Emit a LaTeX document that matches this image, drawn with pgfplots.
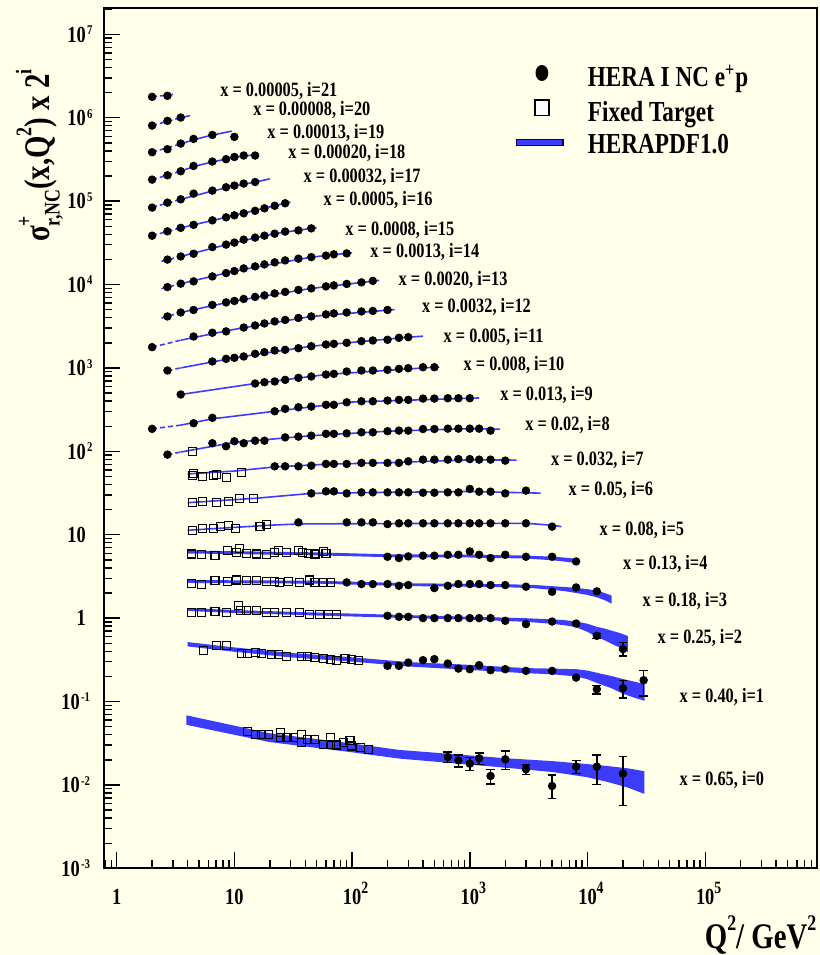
\documentclass[border=0pt]{standalone}
\usepackage{fontspec}
\setmainfont{Liberation Serif}[FakeStretch=0.8]
\usepackage{graphicx}
\usepackage{pgfplots}
\pgfplotsset{compat=1.18}
\definecolor{cream}{RGB}{255,255,234}
\definecolor{hblue}{RGB}{60,60,255}
\newcommand{\xsup}[1]{\raisebox{0.46em}{\scalebox{0.75}{#1}}}
\newcommand{\ysup}[1]{\kern0.6pt\raisebox{0.32em}{\scalebox{0.58}{#1}}}
\newcommand{\lsup}[1]{\raisebox{0.5em}{\scalebox{0.62}{#1}}}
\newcommand{\lsub}[1]{\raisebox{-0.28em}{\scalebox{0.62}{#1}}}
\begin{document}
\begin{tikzpicture}[font=\bfseries]
\fill[cream] (-52.15pt,-43.35pt) rectangle (357.85pt,434.15pt);
\begin{axis}[
  at={(0,0)}, anchor=south west,
  scale only axis, width=356.2pt, height=430pt,
  xmode=log, ymode=log,
  xmin=0.785, xmax=8.85e5, ymin=1e-3, ymax=2.05e7,
  axis line style={line width=0.9pt},
  every tick/.style={black, line width=0.7pt},
  major tick length=8pt, minor tick length=4pt,
  tick align=inside, tick pos=left,
  xtick={1,10,100,1000,10000,100000},
  xticklabels={1,10,10\rlap{\xsup{2}},10\rlap{\xsup{3}},10\rlap{\xsup{4}},10\rlap{\xsup{5}}},
  minor xtick={0.8,0.9,2,3,4,5,6,7,8,9,20,30,40,50,60,70,80,90,200,300,400,500,600,700,800,900,2000,3000,4000,5000,6000,7000,8000,9000,20000,30000,40000,50000,60000,70000,80000,90000,200000,300000,400000,500000,600000,700000,800000},
  ytick={0.001,0.01,0.1,1,10,100,1000,10000,100000,1000000,10000000},
  yticklabels={10\rlap{\ysup{-3}}\kern3pt,10\rlap{\ysup{-2}}\kern3pt,10\rlap{\ysup{-1}}\kern3pt,1,10,10\rlap{\ysup{2}},10\rlap{\ysup{3}},10\rlap{\ysup{4}},10\rlap{\ysup{5}},10\rlap{\ysup{6}},10\rlap{\ysup{7}}},
  minor ytick={0.002,0.003,0.004,0.005,0.006,0.007,0.008,0.009,0.02,0.03,0.04,0.05,0.06,0.07,0.08,0.09,0.2,0.3,0.4,0.5,0.6,0.7,0.8,0.9,2,3,4,5,6,7,8,9,20,30,40,50,60,70,80,90,200,300,400,500,600,700,800,900,2000,3000,4000,5000,6000,7000,8000,9000,20000,30000,40000,50000,60000,70000,80000,90000,200000,300000,400000,500000,600000,700000,800000,900000,2000000,3000000,4000000,5000000,6000000,7000000,8000000,9000000,20000000},
  xticklabel style={font=\fontsize{11.5}{12}\selectfont\bfseries, anchor=north, inner sep=0pt, text height=7.8pt, text depth=0pt, yshift=-10pt},
  yticklabel style={font=\fontsize{11.5}{12}\selectfont\bfseries, anchor=east, inner sep=0pt, text height=7.8pt, text depth=0pt, xshift=-9pt},
  xlabel={Q\lsup{2}/ GeV\lsup{2}},
  xlabel style={font=\fontsize{18}{20}\selectfont\bfseries, at={(axis description cs:1,-0.093)}, anchor=base east, inner sep=0pt},
  ylabel={σ\rlap{\lsup{+}}\lsub{r,NC}(x,Q\lsup{2}) x 2\lsup{i}},
  ylabel style={font=\fontsize{18}{20}\selectfont\bfseries, at={(axis description cs:-0.077,0.728)}, anchor=base west, inner sep=0pt},
  legend cell align=left,
  legend style={at={(axis description cs:0.5775,0.9341)}, anchor=north west, draw=none, fill=none, inner sep=0pt, outer sep=0pt, row sep=3.25pt, font=\fontsize{14.5}{17}\selectfont\bfseries, nodes={inner sep=0pt, text height=10pt, text depth=3pt}},
  clip=false,
]
\addlegendimage{legend image code/.code={\path[draw=none] (-13pt,0pt) -- (23pt,0pt); \fill[black, draw=none] (0pt,3.3pt) ellipse (3.2pt and 4pt);}}
\addlegendentry{HERA I NC e\textsuperscript{+}p}
\addlegendimage{legend image code/.code={\path[draw=none] (-13pt,0pt) -- (23pt,0pt); \draw[black, line width=0.8pt, fill=white] (-3.6pt,-0.6pt) rectangle (3.6pt,7.2pt);}}
\addlegendentry{Fixed Target}
\addlegendimage{legend image code/.code={\path[draw=none] (-13pt,0pt) -- (23pt,0pt); \draw[black!60!blue, line width=0.6pt, fill=hblue] (-12.8pt,0.6pt) rectangle (10.5pt,3.7pt);}}
\addlegendentry{HERAPDF1.0}

% ---------- HERAPDF1.0 bands, rows i=4..0 (upper edge, then lower edge back) ----------
\pgfplotsset{band/.style={fill=hblue, draw=none, forget plot}}
\addplot[band] coordinates {(4,6.45)(10,6.34)(50,6.14)(200,5.82)(1000,5.77)(3000,5.62)(5000,5.46)(6500,5.31)(8000,5.14)
 (8000,4.56)(6500,4.75)(5000,4.94)(3000,5.18)(1000,5.33)(200,5.38)(50,5.66)(10,5.86)(4,5.95)};
\addplot[band] coordinates {(4,2.86)(50,2.81)(300,2.62)(2000,2.55)(3500,2.50)(5000,2.415)(6500,2.36)(8000,2.30)(10000,2.225)(12000,2.125)(14000,2.00)(16000,1.865)
 (16000,1.495)(14000,1.64)(12000,1.775)(10000,1.895)(8000,2.0)(6500,2.10)(5000,2.185)(3500,2.28)(2000,2.35)(300,2.42)(50,2.59)(4,2.64)};
\addplot[band] coordinates {(4,1.321)(10,1.248)(50,1.165)(200,1.102)(1000,1.04)(3000,0.9975)(5000,0.965)(6500,0.942)(8000,0.913)(10000,0.855)(12000,0.787)(14000,0.748)(16000,0.708)(19000,0.66)(22000,0.61)
 (22000,0.39)(19000,0.44)(16000,0.492)(14000,0.542)(12000,0.593)(10000,0.685)(8000,0.777)(6500,0.818)(5000,0.855)(3000,0.9025)(1000,0.96)(200,1.018)(50,1.075)(10,1.152)(4,1.219)};
\addplot[band] coordinates {(4,0.516)(10,0.445)(30,0.382)(100,0.339)(300,0.297)(1000,0.275)(3000,0.2515)(5000,0.248)(8000,0.244)(10000,0.235)(12000,0.221)(16000,0.202)(20000,0.186)(25000,0.173)(30500,0.162)
 (30500,0.102)(25000,0.111)(20000,0.124)(16000,0.144)(12000,0.167)(10000,0.185)(8000,0.200)(5000,0.212)(3000,0.2185)(1000,0.239)(300,0.263)(100,0.301)(30,0.338)(10,0.395)(4,0.458)};
\addplot[band] coordinates {(3.9,0.0684)(10,0.0513)(20,0.0416)(100,0.0314)(250,0.0263)(2000,0.0209)(5000,0.0193)(9850,0.0178)(15000,0.0168)(22000,0.0158)(30400,0.0146)
 (30400,0.0078)(22000,0.0093)(15000,0.0108)(9850,0.0124)(5000,0.0143)(2000,0.0161)(250,0.0207)(100,0.0246)(20,0.0326)(10,0.0399)(3.9,0.0526)};

% ---------- HERAPDF1.0 lines, rows i=21..5 (dashed below Q2=3.5) ----------
\pgfplotsset{pdfd/.style={hblue, line width=0.8pt, dash pattern=on 2.5pt off 1.5pt, forget plot}, pdfs/.style={hblue, line width=0.8pt, forget plot}}
\addplot[pdfd] coordinates {(2,1.78e6)(3.0,1.90e6)};
\addplot[pdfd] coordinates {(2,8.05e5)(3.5,1.0e6)};
\addplot[pdfs] coordinates {(3.5,1.0e6)(4.2,1.06e6)};
\addplot[pdfd] coordinates {(2,3.86e5)(3.5,4.85e5)};
\addplot[pdfs] coordinates {(3.5,4.85e5)(4.5,5.45e5)(6.5,6.2e5)(9.5,6.9e5)};
\addplot[pdfd] coordinates {(2,1.81e5)(3.5,2.28e5)};
\addplot[pdfs] coordinates {(3.5,2.28e5)(4.5,2.6e5)(6.5,2.95e5)(10,3.35e5)(15,3.6e5)};
\addplot[pdfd] coordinates {(2,8.4e4)(3.5,1.05e5)};
\addplot[pdfs] coordinates {(3.5,1.05e5)(6.5,1.32e5)(10,1.52e5)(15,1.69e5)(20,1.85e5)};
\addplot[pdfd] coordinates {(2,3.85e4)(3.5,4.78e4)};
\addplot[pdfs] coordinates {(3.5,4.78e4)(10,6.75e4)(27,9.42e4)(30,9.7e4)};
\addplot[pdfd] coordinates {(2.4,1.9e4)(3.5,2.17e4)};
\addplot[pdfs] coordinates {(3.5,2.17e4)(10,3.18e4)(22,4.07e4)(45,4.71e4)(50,4.8e4)};
\addplot[pdfd] coordinates {(2.4,8.9e3)(3.5,1.023e4)};
\addplot[pdfs] coordinates {(3.5,1.023e4)(10,1.449e4)(45,2.13e4)(100,2.4e4)};
\addplot[pdfd] coordinates {(2.4,3.95e3)(3.5,4.62e3)};
\addplot[pdfs] coordinates {(3.5,4.62e3)(10,6.35e3)(45,8.98e3)(170,1.12e4)};
\addplot[pdfd] coordinates {(2,1.77e3)(3.5,2.15e3)};
\addplot[pdfs] coordinates {(3.5,2.15e3)(10,2.9e3)(45,4.14e3)(230,5.0e3)};
\addplot[pdfd] coordinates {(2.7,931)(3.5,1000)};
\addplot[pdfs] coordinates {(3.5,1000)(10,1322)(45,1821)(300,2337)(400,2400)};
\addplot[pdfs] coordinates {(3.5,480)(15,650)(60,833)(500,1019)(550,1025)};
\addplot[pdfd] coordinates {(2,186)(3.5,206)};
\addplot[pdfs] coordinates {(3.5,206)(6.5,245)(22,302)(100,390)(1000,433)(1200,436)};
\addplot[pdfd] coordinates {(2.7,91.3)(3.5,98)};
\addplot[pdfs] coordinates {(3.5,98)(10,128)(45,154)(200,174)(1000,187)(1800,184)};
\addplot[pdfs] coordinates {(4,53.5)(10,58)(22,65)(60,70)(200,73)(1000,79)(2500,78.5)};
\addplot[pdfs] coordinates {(4,24.2)(15,27.3)(45,31.3)(200,32.2)(1000,33)(4000,31.5)};
\addplot[pdfs] coordinates {(4,11.3)(20,13.0)(35,13.45)(200,13.6)(3000,13.7)(5000,13.0)(6000,12.5)};

% ---------- Fixed target (open squares) ----------
\addplot[only marks, mark=square, mark size=2pt, mark options={black, line width=0.55pt}, forget plot] coordinates {
(4.4,100)
(4.4,51.1)(4.5,54.7)(5.4,50.4)(6.6,51.8)(7.1,53.2)(8.5,48.3)(11.5,56.3)
(4.4,24.1)(5.4,25.1)(7.1,24.4)(8.9,24.8)(11,27.2)(14.6,27.3)
(4.4,11.17)(5.4,11.9)(6.6,11.9)(7.6,12.6)(8.9,12.8)(10.3,11.9)(16.5,12.6)(18.8,13.1)
(4.34,5.87)(5.27,5.75)(6.84,5.60)(8.71,6.43)(10.5,6.13)(11.0,6.79)(12.7,5.96)(15.5,5.87)(18.8,5.75)(22.1,6.13)(23.5,6.51)(27.8,6.13)(34.9,6.43)(38,6.17)(42.5,5.96)(48.4,5.87)(56.9,6.30)(60,5.91)
(4.34,2.60)(5.27,2.51)(6.84,2.80)(8.71,2.75)(10.5,2.86)(12.7,2.80)(15.5,2.80)(18.8,2.75)(22.1,2.75)(24.3,2.68)(28.6,2.75)(36.0,2.68)(43.7,2.86)(48.4,2.68)(56.9,2.68)(65.0,2.68)
(4.34,1.167)(5.27,1.167)(6.84,1.20)(8.6,1.167)(10.8,1.405)(11.2,1.224)(12.7,1.224)(15.5,1.224)(18.8,1.167)(22.1,1.167)(27.8,1.167)(36.0,1.167)(43.7,1.117)(53.3,1.117)(62.6,1.117)(73.7,1.117)
(5.5,0.405)(7,0.465)(8.6,0.465)(11.5,0.376)(13,0.376)(15,0.386)(17,0.376)(20.7,0.3625)(23.5,0.3625)(27.5,0.343)(37,0.343)(42,0.343)(48,0.3365)(57,0.331)(65,0.322)(74,0.313)(87,0.331)(99,0.322)(113,0.307)
(13,0.0432)(15,0.0405)(17,0.0405)(19.4,0.0405)(24.5,0.0423)(24.5,0.0369)(28,0.0369)(31.6,0.0369)(37,0.0405)(37,0.0321)(42,0.0353)(48,0.0353)(57,0.0307)(65,0.0307)(65,0.0369)(74,0.0301)(84,0.0321)(96,0.0343)(99,0.0293)(117,0.0280)(137,0.0268)
};

% ---------- HERA I NC e+p (filled circles) ----------
\addplot[only marks, mark=*, mark size=1.9pt, black, forget plot] coordinates {
(2,1.78e6)(2.7,1.83e6)
(2,8.05e5)(2.7,9.16e5)(3.5,1.005e6)
(2,3.855e5)(2.7,4.19e5)(3.5,4.90e5)(4.5,5.57e5)(6.5,6.21e5)(10,5.89e5)
(2,1.81e5)(2.7,2.04e5)(3.5,2.28e5)(4.5,2.64e5)(6.5,2.98e5)(8.5,3.18e5)(10,3.38e5)(12,3.52e5)(15,3.52e5)
(2,8.36e4)(2.7,9.59e4)(3.5,1.051e5)(4.5,1.23e5)(6.5,1.336e5)(8.5,1.465e5)(10,1.535e5)(12,1.622e5)(15,1.694e5)
(2,3.85e4)(2.7,4.34e4)(3.5,4.78e4)(4.5,5.19e4)(6.5,5.88e4)(8.5,6.39e4)(10,6.75e4)(12,7.14e4)(15,7.65e4)(18,8.20e4)(22,8.79e4)(27,9.42e4)
(2.7,1.99e4)(3.5,2.17e4)(4.5,2.34e4)(6.5,2.81e4)(8.5,3.01e4)(10,3.18e4)(12,3.45e4)(15,3.65e4)(18,3.85e4)(22,4.07e4)(27,4.31e4)(35,4.46e4)(45,4.71e4)
(2.7,9310)(3.5,10230)(4.5,10900)(6.5,12500)(8.5,13710)(10,14490)(12,15600)(15,16490)(18,17420)(22,18420)(27,19460)(35,20400)(45,21300)(60,22200)(70,23000)(90,23600)
(2.7,4140)(3.5,4620)(4.5,4950)(6.5,5690)(8.5,6100)(10,6350)(12,6710)(15,7100)(18,7400)(22,7820)(27,8150)(35,8610)(45,8980)(60,9490)(70,9750)(90,10160)(120,10600)(150,11050)
(2,1773)(4.5,2380)(6.5,2640)(8.5,2740)(12,3050)(15,3230)(18,3410)(22,3610)(27,3760)(35,3970)(45,4140)(60,4380)(70,4500)(90,4620)(120,4750)(150,4820)(200,4950)
(2.7,931)(6.5,1194)(8.5,1285)(10,1322)(12,1371)(15,1476)(18,1543)(22,1618)(27,1648)(35,1723)(45,1821)(60,1909)(70,1946)(90,2001)(120,2093)(150,2133)(200,2174)(250,2298)(300,2337)
(3.5,480)(15,650)(18,673)(22,687)(27,719)(35,760)(45,789)(60,833)(70,849)(90,905)(120,931)(150,931)(200,949)(250,975)(300,992)(400,1019)(500,1019)
(2,186)(4.5,217)(6.5,252)(22,302)(27,323)(35,337)(45,344)(60,361)(70,361)(90,387)(120,398)(150,398)(200,406)(250,414)(300,414)(400,429)(500,429)(650,433)(800,433)(1000,433)
(2.7,91.3)(6.5,125)(8.5,115)(10,132)(12,125)(15,134)(18,134)(27,147)(35,150)(45,154)(60,162)(70,162)(90,164)(120,169)(150,169)(200,174)(250,177)(300,177)(400,185)(500,185)(650,187)(800,187)(1000,187)(1200,187)(1500,177)
(22,66.1)(27,66.1)(35,66.1)(45,67.3)(60,70.6)(70,70.6)(90,70.6)(120,72.6)(150,72.6)(200,72.6)(250,72.6)(300,75.9)(400,79.5)(500,79.5)(650,79.5)(800,80.6)(1000,80.6)(1200,79.5)(1500,79.5)(2000,77.3)
(45,31.3)(60,33.1)(70,33.1)(90,31.3)(120,32.2)(150,32.2)(200,32.2)(250,32.2)(300,32.2)(400,31.9)(500,31.9)(650,32.2)(800,32.2)(1000,35.4)(1200,32.8)(1500,32.8)(2000,31.3)(3000,33.8)
(35,14.05)(90,14.05)(120,14.05)(150,14.05)(200,13.4)(250,13.7)(300,13.7)(400,13.7)(500,13.7)(650,13.7)(800,13.7)(1000,13.7)(1200,13.7)(1500,13.7)(2000,13.7)(3000,13.7)(5000,12.5)
(200,5.44)(250,5.25)(300,5.49)(400,5.60)(500,5.60)(650,5.75)(800,5.75)(1000,6.30)(1200,5.75)(1500,5.25)(2000,5.75)(3000,5.44)(5000,5.44)(8000,4.78)
(90,2.68)(120,2.56)(150,2.56)(200,2.56)(250,2.44)(300,2.49)(500,2.29)(650,2.44)(800,2.56)(1000,2.56)(1200,2.56)(1500,2.49)(2000,2.49)(3000,2.38)(5000,2.07)(8000,2.33)(12000,2.09)
(200,1.066)(250,1.036)(300,1.036)(400,1.0)(500,1.0)(650,1.0)(800,1.0)(1000,1.0)(1200,1.0)(1500,1.0)(2000,0.928)(3000,0.847)(5000,0.910)(8000,0.861)
(200,0.2676)(250,0.2676)(300,0.293)(400,0.313)(500,0.322)(650,0.285)(800,0.248)(1000,0.244)(1200,0.273)(1500,0.2375)(2000,0.244)(3000,0.233)(5000,0.233)(8000,0.1936)
};
% points with visible error bars
\addplot[only marks, mark=*, mark size=1.9pt, black, forget plot,
  error bars/.cd, y dir=both, y explicit, error mark options={black, line width=0.7pt, mark size=2.2pt, rotate=90}, error bar style={line width=0.7pt}] coordinates {
(12000,0.613) += (0,0.04) -= (0,0.04)
(20000,0.425) += (0,0.085) -= (0,0.072)
(12000,0.1405) += (0,0.0145) -= (0,0.017)
(20000,0.1445) += (0,0.0335) -= (0,0.0345)
(30000,0.180) += (0,0.056) -= (0,0.063)
(650,0.0216) += (0,0.0033) -= (0,0.0031)
(800,0.0197) += (0,0.0032) -= (0,0.0033)
(1000,0.01797) += (0,0.0032) -= (0,0.0030)
(1200,0.02085) += (0,0.0032) -= (0,0.0033)
(1500,0.0128) += (0,0.0026) -= (0,0.0025)
(2000,0.0203) += (0,0.0053) -= (0,0.0049)
(3000,0.0154) += (0,0.0019) -= (0,0.0020)
(5000,0.0097) += (0,0.0034) -= (0,0.0028)
(8000,0.01654) += (0,0.0032) -= (0,0.0029)
(12000,0.01654) += (0,0.0062) -= (0,0.0064)
(20000,0.01363) += (0,0.0082) -= (0,0.0080)
};

% ---------- bin labels ----------
\begin{scope}[every node/.style={anchor=west, inner sep=0pt, font=\fontsize{10.2}{11}\selectfont\bfseries, text height=6.9pt, text depth=0pt}]
\node at (axis description cs:0.1624,0.9050) {x = 0.00005, i=21};
\node at (axis description cs:0.2087,0.8837) {x = 0.00008, i=20};
\node at (axis description cs:0.2284,0.8565) {x = 0.00013, i=19};
\node at (axis description cs:0.2579,0.8333) {x = 0.00020, i=18};
\node at (axis description cs:0.2793,0.8050) {x = 0.00032, i=17};
\node at (axis description cs:0.3074,0.7783) {x = 0.0005, i=16};
\node at (axis description cs:0.3379,0.7434) {x = 0.0008, i=15};
\node at (axis description cs:0.3730,0.7178) {x = 0.0013, i=14};
\node at (axis description cs:0.4127,0.6860) {x = 0.0020, i=13};
\node at (axis description cs:0.4455,0.6538) {x = 0.0032, i=12};
\node at (axis description cs:0.4759,0.6190) {x = 0.005, i=11};
\node at (axis description cs:0.5039,0.5864) {x = 0.008, i=10};
\node at (axis description cs:0.5554,0.5515) {x = 0.013, i=9};
\node at (axis description cs:0.5905,0.5166) {x = 0.02, i=8};
\node at (axis description cs:0.6266,0.4759) {x = 0.032, i=7};
\node at (axis description cs:0.6513,0.4410) {x = 0.05, i=6};
\node at (axis description cs:0.6948,0.3945) {x = 0.08, i=5};
\node at (axis description cs:0.7277,0.3556) {x = 0.13, i=4};
\node at (axis description cs:0.7552,0.3120) {x = 0.18, i=3};
\node at (axis description cs:0.7762,0.2693) {x = 0.25, i=2};
\node at (axis description cs:0.8071,0.2006) {x = 0.40, i=1};
\node at (axis description cs:0.8071,0.1038) {x = 0.65, i=0};
\end{scope}
\end{axis}
\pgfresetboundingbox
\path (-52.15pt,-43.35pt) rectangle (357.85pt,434.15pt);
\end{tikzpicture}
\end{document}
